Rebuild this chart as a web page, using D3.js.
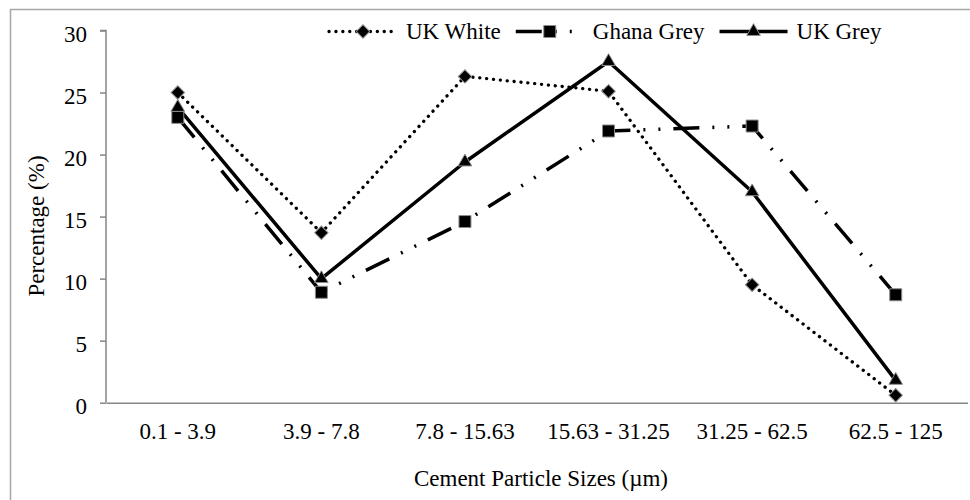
<!DOCTYPE html>
<html>
<head>
<meta charset="utf-8">
<script src="https://cdnjs.cloudflare.com/ajax/libs/d3/7.8.5/d3.min.js"></script>
<style>
    body { margin: 0; background: #fff; }
    text { font-family: "Liberation Serif", "Times New Roman", serif; fill: #000; }
</style>
</head>
<body>
<div id="chart"></div>
<script>
// chart data
var categories = ["0.1 - 3.9", "3.9 - 7.8", "7.8 - 15.63", "15.63 - 31.25", "31.25 - 62.5", "62.5 - 125"];
var ukWhite = [25.0, 13.7, 26.3, 25.1, 9.5, 0.6];
var ghanaGrey = [23.0, 8.9, 14.6, 21.9, 22.3, 8.7];
var ukGrey = [23.8, 10.0, 19.4, 27.5, 17.0, 1.8];
var yTicks = [0, 5, 10, 15, 20, 25, 30];
var seriesNames = ["UK White", "Ghana Grey", "UK Grey"];

var W = 970, H = 500;
var fontSize = 23;

// series styles, same order as seriesNames
var styles = [
    { dash: "0.1,6.8", cap: "round", width: 3.3, symbol: "diamond" },
    { dash: "26,13,2,13,2,13", cap: "butt", width: 3.5, symbol: "square" },
    { dash: null, cap: "butt", width: 3.5, symbol: "triangle" }
];
var allSeries = [ukWhite, ghanaGrey, ukGrey];

var svg = d3.select("#chart").append("svg")
    .attr("width", W)
    .attr("height", H);

svg.append("rect")
    .attr("width", W)
    .attr("height", H)
    .attr("fill", "#fff");

// outer chart border (runs past the picture on right & bottom)
svg.append("rect")
    .attr("x", 10.5)
    .attr("y", 9.5)
    .attr("width", W + 20)
    .attr("height", H + 20)
    .attr("fill", "none")
    .attr("stroke", "#a6a6a6")
    .attr("stroke-width", 1.5);

var x = d3.scaleBand()
    .domain(categories)
    .range([106, 967.5]);

var y = d3.scaleLinear()
    .domain([0, 30])
    .range([402.7, 30.5]);

// y axis
var yAxis = svg.append("g")
    .attr("transform", "translate(106,0)")
    .call(d3.axisLeft(y).tickValues(yTicks).tickSize(6).tickPadding(13));
yAxis.select(".domain").attr("stroke", "#868686").attr("stroke-width", 1.5)
    .attr("d", "M-6," + y(30) + "H0V" + y(0));
yAxis.selectAll(".tick line").attr("stroke", "#868686").attr("stroke-width", 1.5);
yAxis.selectAll(".tick text")
    .attr("font-size", fontSize)
    .attr("font-family", "Liberation Serif")
    .attr("fill", "#000")
    .attr("dy", "0.48em");

// x axis
var xAxis = svg.append("g")
    .attr("transform", "translate(0," + y(0) + ")")
    .call(d3.axisBottom(x).tickSize(0).tickPadding(0));
xAxis.select(".domain").attr("stroke", "#868686").attr("stroke-width", 1.5);
xAxis.selectAll(".tick text")
    .attr("font-size", fontSize)
    .attr("font-family", "Liberation Serif")
    .attr("fill", "#000")
    .attr("y", 36)
    .attr("dy", 0);

// axis titles
svg.append("text")
    .attr("x", 541)
    .attr("y", 486)
    .attr("text-anchor", "middle")
    .attr("font-size", fontSize)
    .text("Cement Particle Sizes (\u00b5m)");

svg.append("text")
    .attr("transform", "translate(44,226) rotate(-90)")
    .attr("text-anchor", "middle")
    .attr("font-size", fontSize)
    .text("Percentage (%)");

function markerPath(kind) {
    if (kind == "diamond") {
        return d3.symbol().type(d3.symbolSquare).size(90)();
    } else if (kind == "square") {
        return d3.symbol().type(d3.symbolSquare).size(144)();
    } else {
        return d3.symbol().type(d3.symbolTriangle).size(80)();
    }
}

function drawMarker(g, kind, px, py) {
    g.append("path")
        .attr("d", markerPath(kind))
        .attr("transform", "translate(" + px + "," + py + ")" + (kind == "diamond" ? " rotate(45)" : ""))
        .attr("fill", "#000")
        .attr("stroke", "#8c8c8c")
        .attr("stroke-width", 1);
}

var line = d3.line()
    .x(function (d, i) { return x(categories[i]) + x.bandwidth() / 2; })
    .y(function (d) { return y(d); });

var plot = svg.append("g");

allSeries.forEach(function (vals, k) {
    var st = styles[k];
    var p = plot.append("path")
        .datum(vals)
        .attr("d", line)
        .attr("fill", "none")
        .attr("stroke", "#000")
        .attr("stroke-width", st.width)
        .attr("stroke-linecap", st.cap)
        .attr("stroke-linejoin", "round");
    if (st.dash) p.attr("stroke-dasharray", st.dash);
});

allSeries.forEach(function (vals, k) {
    vals.forEach(function (v, i) {
        drawMarker(plot, styles[k].symbol, x(categories[i]) + x.bandwidth() / 2, y(v));
    });
});

// legend
var legend = svg.append("g");
var lx = 329, ly = 31.5, lineLen = 68;
seriesNames.forEach(function (name, k) {
    var st = styles[k];
    var l = legend.append("line")
        .attr("x1", lx)
        .attr("x2", lx + lineLen)
        .attr("y1", ly)
        .attr("y2", ly)
        .attr("stroke", "#000")
        .attr("stroke-width", st.width)
        .attr("stroke-linecap", st.cap);
    if (st.dash) l.attr("stroke-dasharray", st.dash);
    drawMarker(legend, st.symbol, lx + lineLen / 2, ly);
    var t = legend.append("text")
        .attr("x", lx + lineLen + 9)
        .attr("y", ly + 7)
        .attr("font-size", fontSize)
        .text(name);
    lx = lx + lineLen + 9 + t.node().getComputedTextLength() + 15;
});
</script>
</body>
</html>
